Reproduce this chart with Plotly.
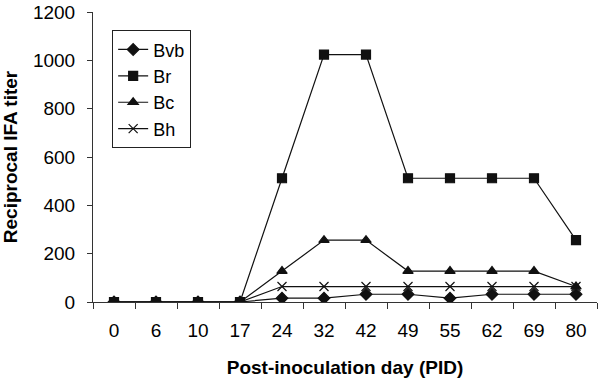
import plotly.graph_objects as go

days = ["0", "6", "10", "17", "24", "32", "42", "49", "55", "62", "69", "80"]
bvb = [0, 0, 0, 0, 16, 16, 32, 32, 16, 32, 32, 32]
br = [0, 0, 0, 0, 512, 1024, 1024, 512, 512, 512, 512, 256]
bc = [0, 0, 0, 0, 128, 256, 256, 128, 128, 128, 128, 64]
bh = [0, 0, 0, 0, 64, 64, 64, 64, 64, 64, 64, 64]

series = [
    ("Bvb", bvb, "diamond", 9),
    ("Br", br, "square", 9),
    ("Bc", bc, "triangle-up", 9),
    ("Bh", bh, "x-thin", 9),
]

fig = go.Figure()
for name, vals, sym, sz in series:
    fig.add_trace(go.Scatter(
        x=days, y=vals, name=name, mode="lines+markers",
        legendgroup=name,
        line=dict(color="#111111", width=1.2),
        marker=dict(symbol=sym, size=sz, color="#111111",
                    line=dict(color="#111111", width=1.2)),
    ))

fig.update_layout(
    width=600, height=382,
    margin=dict(l=93, r=3, t=12, b=80),
    paper_bgcolor="white", plot_bgcolor="white",
    font=dict(family="Liberation Sans, Arial", size=19, color="black"),
    showlegend=True,
    legend=dict(
        x=0.038, y=0.937, xanchor="left", yanchor="top",
        bordercolor="#222222", borderwidth=1, bgcolor="white",
        font=dict(size=18), traceorder="grouped", tracegroupgap=0,
    ),
    xaxis=dict(
        type="category", range=[-0.5, 11.5], automargin=False,
        showline=True, linecolor="#333333", linewidth=1,
        ticks="outside", tickson="boundaries", ticklen=6, tickcolor="#333333",
        ticklabelstandoff=11,
        showgrid=False, zeroline=False,
        title=dict(text="<b>Post-inoculation day (PID)</b>", font=dict(size=19), standoff=20),
    ),
    yaxis=dict(
        range=[0, 1200], dtick=200, automargin=False,
        showline=True, linecolor="#333333", linewidth=1,
        ticks="outside", ticklen=5, tickcolor="#333333",
        ticklabelstandoff=8,
        showgrid=False, zeroline=False,
        title=dict(text="<b>Reciprocal IFA titer</b>", font=dict(size=19), standoff=14),
    ),
)

fig.write_html("out.html", config={"displayModeBar": False},
               post_script="document.body.style.margin='0px';")
